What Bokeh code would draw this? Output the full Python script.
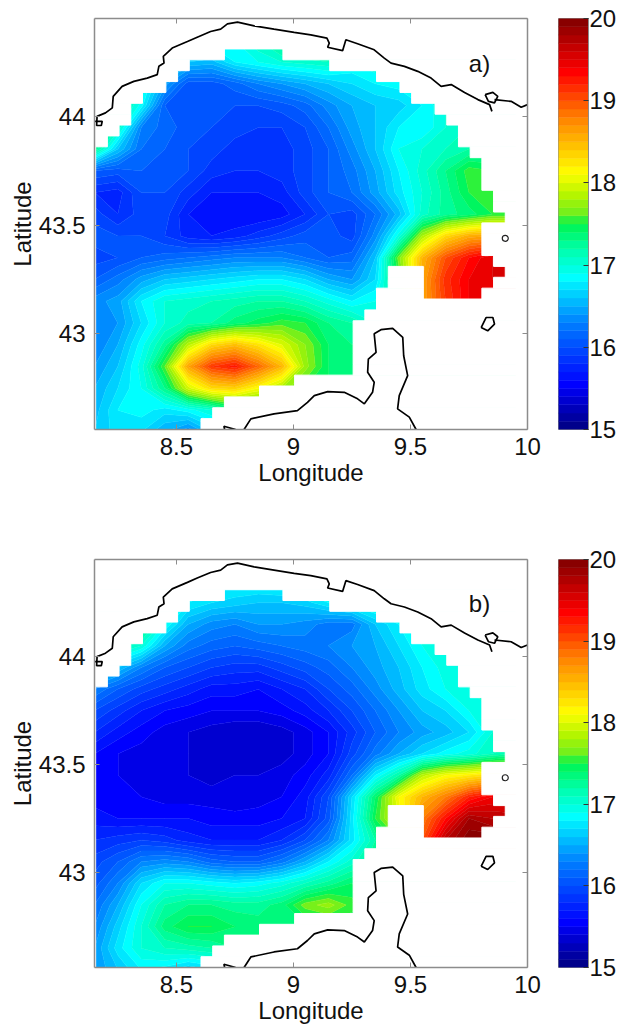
import numpy as np
from bokeh.embed import file_html
from bokeh.layouts import column, row
from bokeh.models import FixedTicker, LinearAxis, Range1d
from bokeh.plotting import figure
from bokeh.resources import INLINE
from bokeh.core.properties import value

lons = [8.15 + 0.1 * i for i in range(19)]
lats = [42.55 + 0.1 * i for i in range(19)]

# SST, rows from south to north, columns from west to east
sst_a = [
 [16.6,16.75,16.7,16.5,16.3,16.6,17,17,17,17,17,17,17,17,17,17,17,17,17],
 [16.55,16.8,16.85,16.75,16.85,17.0,17.3,17.3,17.3,17.3,17.3,17.3,17.3,17.3,17.3,17.3,17.3,17.3,17.3],
 [16.5,16.7,16.9,17.3,17.95,18.3,18.35,18.1,17.8,17.5,17.4,17.3,17.3,17.3,17.3,17.3,17.3,17.3,17.3],
 [16.4,16.6,16.95,17.6,18.6,19.1,19.25,18.9,18.5,17.75,17.4,17.3,17.3,17.3,17.3,17.3,17.3,17.3,17.3],
 [16.3,16.5,16.85,17.25,17.85,18.3,18.45,18.25,18.0,17.7,17.4,17.3,17.3,17.3,17.3,17.3,17.3,17.3,17.3],
 [16.3,16.4,16.7,17.0,17.15,17.2,17.35,17.45,17.55,17.5,17.3,17.2,17.0,17.0,17.0,17.0,17.0,17.0,17.0],
 [16.35,16.45,16.8,17.0,17.05,17.1,17.15,17.2,17.2,17.1,16.95,16.8,16.9,17.2,18.6,19.1,19.4,19.45,19.45],
 [16.1,16.25,16.45,16.6,16.65,16.7,16.75,16.8,16.8,16.7,16.5,16.4,16.7,17.5,18.6,19.15,19.4,19.5,19.5],
 [15.95,16.0,16.1,16.15,16.2,16.25,16.3,16.3,16.3,16.2,16.1,16.15,16.6,17.65,18.5,19.0,19.3,19.5,19.5],
 [16.05,16.0,16.0,15.9,15.75,15.7,15.75,15.85,15.95,16.05,16.05,15.95,16.35,16.95,17.8,18.3,18.55,18.6,18.6],
 [15.95,15.8,15.95,15.95,15.7,15.65,15.6,15.6,15.65,15.8,16.0,15.95,16.2,16.55,17.05,17.25,17.35,17.5,17.5],
 [15.8,15.75,16.0,16.0,15.85,15.7,15.7,15.7,15.75,15.95,16.1,16.2,16.45,16.75,17.0,17.25,17.5,17.5,17.5],
 [16.1,16.05,16.1,16.05,16.0,15.85,15.8,15.8,15.85,15.95,16.1,16.25,16.5,16.8,17.05,17.3,17.55,17.5,17.5],
 [17.3,16.6,16.2,16.1,16.0,15.95,15.85,15.85,15.85,15.95,16.1,16.35,16.6,16.9,17.0,17.1,17.2,17.2,17.2],
 [17.3,17.1,16.3,16.15,16.05,16.0,15.95,15.9,15.9,16.0,16.2,16.45,16.6,16.8,16.8,17.0,17.1,17.1,17.1],
 [17.3,17.3,16.85,16.1,16.0,16.0,16.0,16.0,16.05,16.15,16.35,16.5,16.6,16.65,16.8,17.0,17.0,17.0,17.0],
 [17.0,17.0,17.0,16.45,16.05,16.05,16.15,16.3,16.4,16.5,16.6,16.7,16.8,16.85,17.0,17.0,17.0,17.0,17.0],
 [17.0,17.0,17.0,17.0,16.6,16.55,16.8,16.9,17.0,17.05,17.1,16.9,17.0,17.0,17.0,17.0,17.0,17.0,17.0],
 [17.0,17.0,17.0,17.0,17.0,16.9,16.9,17.1,17.35,17.4,17.4,17.0,17.0,17.0,17.0,17.0,17.0,17.0,17.0],
]
sst_b = [
 [16.4,16.6,16.8,16.75,16.6,16.7,17,17,17,17,17,17,17,17,17,17,17,17,17],
 [16.4,16.75,17.0,17.1,17.15,17.2,17.3,17.3,17.3,17.3,17.3,17.3,17.3,17.3,17.3,17.3,17.3,17.3,17.3],
 [16.3,16.65,17.0,17.35,17.5,17.5,17.4,17.35,17.35,17.35,17.4,17.4,17.4,17.4,17.4,17.4,17.4,17.4,17.4],
 [16.2,16.5,16.9,17.2,17.3,17.3,17.25,17.25,17.35,17.65,17.75,17.55,17.3,17.3,17.3,17.3,17.3,17.3,17.3],
 [16.05,16.3,16.7,16.9,16.9,16.85,16.8,16.85,16.95,17.1,17.25,17.4,17.3,17.3,17.3,17.3,17.3,17.3,17.3],
 [15.95,16.1,16.3,16.35,16.3,16.15,16.1,16.1,16.25,16.5,16.8,17.05,17.3,17.3,17.3,17.3,17.3,17.3,17.3],
 [15.8,15.85,15.9,15.85,15.75,15.7,15.7,15.7,15.8,16.0,16.3,16.75,17.2,17.6,19.0,19.7,19.99,19.99,19.9],
 [15.65,15.6,15.6,15.6,15.6,15.55,15.55,15.55,15.6,15.7,16.05,16.75,17.5,18.0,18.8,19.3,19.8,19.7,19.7],
 [15.55,15.5,15.5,15.45,15.45,15.45,15.4,15.45,15.5,15.65,16.0,16.7,17.4,18.1,18.5,18.8,19.2,19.4,19.3],
 [15.55,15.5,15.45,15.4,15.4,15.35,15.4,15.4,15.45,15.55,15.75,16.2,16.8,17.2,17.85,18.1,18.2,18.3,18.3],
 [15.6,15.5,15.45,15.4,15.4,15.35,15.3,15.3,15.35,15.45,15.6,15.95,16.25,16.5,16.7,16.85,16.95,17.1,17.2],
 [15.8,15.65,15.55,15.45,15.4,15.35,15.3,15.3,15.35,15.45,15.6,15.85,16.1,16.3,16.45,16.55,16.7,17.0,17.0],
 [16.0,15.85,15.7,15.6,15.55,15.5,15.5,15.5,15.55,15.65,15.8,16.0,16.2,16.4,16.6,16.7,16.9,17.0,17.0],
 [16.3,16.1,15.95,15.85,15.75,15.65,15.65,15.6,15.7,15.8,16.0,16.15,16.35,16.55,16.75,16.9,17.0,17.0,17.0],
 [16.9,16.6,16.3,16.1,16.0,15.9,15.85,15.85,15.95,16.05,16.15,16.3,16.45,16.6,16.8,16.95,17.0,17.0,17.0],
 [17.2,17.2,17.0,16.5,16.25,16.15,16.1,16.15,16.2,16.25,16.3,16.4,16.5,16.7,16.9,17.0,17.0,17.0,17.0],
 [17.4,17.4,17.4,16.9,16.5,16.35,16.3,16.4,16.4,16.35,16.25,16.25,16.6,16.8,17.0,17.0,17.0,17.0,17.0],
 [17.0,17.0,17.0,17.0,16.8,16.7,16.65,16.6,16.6,16.65,16.8,16.9,17.0,17.0,17.0,17.0,17.0,17.0,17.0],
 [17.0,17.0,17.0,17.0,17.0,16.9,16.85,16.85,16.9,17.0,17.0,17.0,17.0,17.0,17.0,17.0,17.0,17.0,17.0],
]

# sea cells per 0.05 degree row, south to north: (first column, last column + 1)
sea_spans = [
 [(0,9)],[(0,10)],[(0,11)],[(0,14)],[(0,17)],[(0,22)],[(0,22)],[(0,22)],[(0,22)],[(0,22)],
 [(0,23)],[(0,24)],[(0,24),(28,33)],[(0,25),(28,34)],[(0,25),(28,35)],[(0,34)],[(0,33)],[(0,33)],[(0,33)],
 [(0,35)],[(0,34)],[(0,34)],[(0,33)],[(0,33)],[(0,33)],[(0,32)],[(1,31)],[(2,31)],[(3,30)],[(3,29)],
 [(4,27)],[(6,26)],[(7,24)],[(8,20)],[(11,16)],
]

coast_north_lon = [8.150,8.183,8.179,8.159,8.161,8.197,8.226,8.230,8.268,8.318,8.375,8.418,8.425,8.447,8.444,8.482,8.547,8.589,8.646,8.689,8.718,8.761,8.832,8.917,9.003,9.074,9.143,9.153,9.146,9.210,9.224,9.274,9.345,9.388,9.417,9.474,9.531,9.588,9.631,9.674,9.731,9.788,9.838,9.848]
coast_north_lat = [43.977,43.977,43.958,43.958,44.000,44.016,44.039,44.092,44.138,44.161,44.176,44.192,44.230,44.245,44.276,44.314,44.344,44.364,44.390,44.401,44.425,44.433,44.416,44.401,44.386,44.375,44.360,44.337,44.318,44.302,44.352,44.334,44.306,44.268,44.245,44.230,44.207,44.176,44.138,44.146,44.110,44.077,44.054,44.023]
coast_east_lon = [9.859,9.930,9.973,10.0]
coast_east_lat = [44.077,44.069,44.042,44.054]
palmaria_lon = [9.819,9.852,9.873,9.859,9.833,9.819]
palmaria_lat = [44.100,44.110,44.092,44.062,44.069,44.100]
corsica_lon = [9.524,9.495,9.445,9.452,9.488,9.471,9.467,9.424,9.374,9.345,9.353,9.320,9.317,9.345,9.338,9.303,9.274,9.217,9.146,9.089,9.060,9.017,8.917,8.818,8.789]
corsica_lat = [42.56,42.617,42.655,42.716,42.808,42.899,42.984,43.025,43.019,43.0,42.915,42.884,42.823,42.777,42.731,42.678,42.701,42.731,42.734,42.716,42.685,42.647,42.632,42.609,42.56]
south_bit_lon = [8.706,8.703,8.753]
south_bit_lat = [42.56,42.575,42.56]
capraia_lon = [9.802,9.823,9.852,9.859,9.830,9.802]
capraia_lat = [43.029,43.075,43.075,43.045,43.014,43.029]
gorgona_lon = [9.905]
gorgona_lat = [43.439]

lon_ticks = [8.5, 9, 9.5, 10]
lat_ticks = [43, 43.5, 44]
cb_ticks = [15, 16, 17, 18, 19, 20]
panel_labels = ["a)", "b)"]
T_MIN, T_MAX, N_LEVELS = 15, 20, 50

# colour bar: value, red, green, blue
cmap_values = [15, 15.55, 16.3, 16.85, 17.2, 17.5, 17.62, 17.85, 18.12, 18.8, 19.35, 20]
cmap_red = [0, 0, 0, 0, 0, 0, 110, 180, 255, 255, 255, 128]
cmap_green = [0, 0, 128, 255, 255, 245, 240, 245, 255, 128, 0, 0]
cmap_blue = [128, 255, 255, 255, 170, 80, 30, 0, 0, 0, 0, 0]

FONT = "Liberation Sans"
GREY = "#8c8c8c"

levels = np.linspace(T_MIN, T_MAX, N_LEVELS + 1)
mids = (levels[:-1] + levels[1:]) / 2
palette = ["#%02x%02x%02x" % (int(np.interp(v, cmap_values, cmap_red)),
                              int(np.interp(v, cmap_values, cmap_green)),
                              int(np.interp(v, cmap_values, cmap_blue))) for v in mids]


def frame_axis(ticks):
    return LinearAxis(ticker=FixedTicker(ticks=ticks), major_label_text_font_size="1px",
                      major_label_overrides={t: "" for t in ticks},
                      major_tick_in=5, major_tick_out=0, minor_tick_line_color=None,
                      axis_line_color=GREY, axis_line_width=1.5, major_tick_line_color=GREY,
                      major_label_standoff=0)


def add_frame_axes(p):
    p.xaxis.ticker = FixedTicker(ticks=lon_ticks)
    p.yaxis.ticker = FixedTicker(ticks=lat_ticks)
    p.xaxis.major_label_overrides = {8.5: "8.5", 9: "9", 9.5: "9.5", 10: "10"}
    p.yaxis.major_label_overrides = {43: "43", 43.5: "43.5", 44: "44"}
    for a in p.axis:
        a.major_label_text_font = FONT
        a.major_label_text_font_size = "24px"
        a.major_label_text_color = "#111111"
        a.axis_label_text_font = FONT
        a.axis_label_text_font_size = "24px"
        a.axis_label_text_font_style = "normal"
        a.axis_label_text_color = "#111111"
        a.axis_line_color = GREY
        a.axis_line_width = 1.5
        a.major_tick_line_color = GREY
        a.major_tick_in = 5
        a.major_tick_out = 0
        a.minor_tick_line_color = None
    p.xaxis.major_label_standoff = 8
    p.xaxis.axis_label_standoff = 1
    p.yaxis.major_label_standoff = 9
    p.yaxis.axis_label_standoff = 0
    p.add_layout(frame_axis(lon_ticks), "above")
    p.add_layout(frame_axis(lat_ticks), "right")


def map_panel(sst, label, height, top, bottom):
    p = figure(width=558, height=height, output_backend="svg", toolbar_location=None,
               x_range=Range1d(8.15, 10.0), y_range=Range1d(42.56, 44.45),
               x_axis_label="Longitude", y_axis_label="Latitude",
               min_border_left=94, min_border_right=31, min_border_top=top, min_border_bottom=bottom,
               background_fill_color="white", border_fill_color="white")
    p.grid.visible = False
    p.outline_line_color = None
    # the small shift keeps grid values off the exact level edges
    z = np.clip(np.array(sst, dtype=float), T_MIN + 0.001, T_MAX - 0.001) + 0.0007
    p.contour(lons, lats, z, levels, fill_color=palette,
              line_color=palette + [palette[-1]], line_width=0.6)
    # land: everything outside the sea cells of each row
    dx, dy = 0.05, 0.05
    x0, y0 = 8.155, 42.56
    left, right, bottom_, top_ = [], [], [], []
    for k, spans in enumerate(sea_spans):
        edge = 8.0
        for a, b in spans:
            left.append(edge); right.append(x0 + a * dx)
            bottom_.append(y0 + k * dy); top_.append(y0 + (k + 1) * dy)
            edge = x0 + b * dx
        left.append(edge); right.append(10.1)
        bottom_.append(y0 + k * dy); top_.append(y0 + (k + 1) * dy)
    left.append(8.0); right.append(10.1)
    bottom_.append(y0 + len(sea_spans) * dy); top_.append(44.6)
    p.quad(left=left, right=right, bottom=bottom_, top=top_, fill_color="white",
           line_color="white", line_width=1)
    for xs, ys in [(coast_north_lon, coast_north_lat), (coast_east_lon, coast_east_lat),
                   (palmaria_lon, palmaria_lat), (corsica_lon, corsica_lat),
                   (south_bit_lon, south_bit_lat), (capraia_lon, capraia_lat)]:
        p.line(xs, ys, line_color="black", line_width=1.7)
    p.scatter(gorgona_lon, gorgona_lat, marker="circle", size=6, fill_color=None,
              line_color="#222222", line_width=1.2)
    p.text([9.795], [44.245], text=[label], text_font=value(FONT), text_font_size="24px",
           text_align="center", text_baseline="middle", text_color="#111111")
    add_frame_axes(p)
    return p


def colorbar_panel(height, top, bottom):
    p = figure(width=73, height=height, output_backend="svg", toolbar_location=None,
               x_range=Range1d(0, 1), y_range=Range1d(T_MIN, T_MAX), y_axis_location="right",
               min_border_left=0, min_border_right=43, min_border_top=top, min_border_bottom=bottom,
               background_fill_color="white", border_fill_color="white")
    p.grid.visible = False
    p.xaxis.visible = False
    p.outline_line_color = GREY
    p.outline_line_width = 1
    p.quad(left=0, right=1, bottom=levels[:-1], top=levels[1:], fill_color=palette, line_color=palette, line_width=0.5)
    a = p.yaxis[0]
    a.ticker = FixedTicker(ticks=cb_ticks)
    a.major_label_text_font = FONT
    a.major_label_text_font_size = "24px"
    a.major_label_text_color = "#111111"
    a.major_tick_in = 5
    a.major_tick_out = 0
    a.major_tick_line_color = "#333333"
    a.minor_tick_line_color = None
    a.axis_line_color = GREY
    a.major_label_standoff = 1
    return p


pa = map_panel(sst_a, panel_labels[0], 500, 17, 71)
ca = colorbar_panel(500, 18, 69)
pb = map_panel(sst_b, panel_labels[1], 526, 58, 56)
cb = colorbar_panel(526, 59, 54)

layout = column(row(pa, ca, spacing=0), row(pb, cb, spacing=0), spacing=0)
open("out.html", "w").write(file_html(layout, INLINE))
